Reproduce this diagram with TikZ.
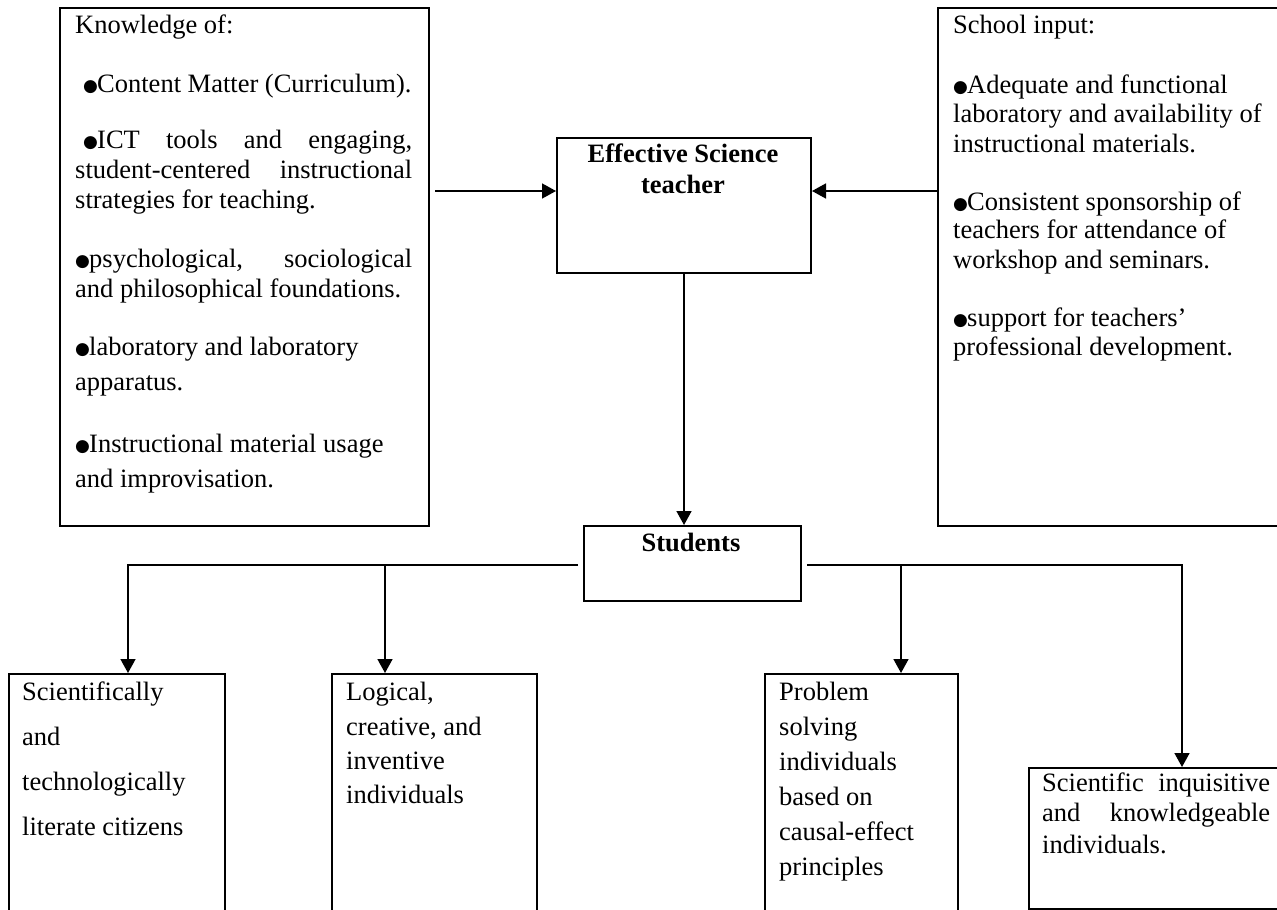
\documentclass[tikz,border=0pt]{standalone}
\usepackage{fontspec}
\setmainfont{Liberation Serif}
\newfontfamily\dejavu{DejaVu Sans}
\usetikzlibrary{arrows.meta}
\newcommand\bul{\makebox[14pt][l]{\dejavu\fontsize{17}{17}\selectfont\raisebox{0.5pt}{●}}}
\newcommand\fs{\fontsize{26.5}{30}\selectfont}
\begin{document}
\begin{tikzpicture}[x=1pt,y=-1pt,
  box/.style={draw, line width=2pt, inner sep=0pt, anchor=north west},
  arr/.style={line width=1.6pt, -{Triangle[length=14pt,width=15pt]}},
  ln/.style={anchor=base west, inner sep=0pt, font=\fs},
  lnc/.style={anchor=base, inner sep=0pt, font=\fs\bfseries}]
\useasboundingbox (0,0) rectangle (1277,910);
\clip (0,0) rectangle (1277,910);
% boxes
\node[box, minimum width=369pt, minimum height=518pt] (know) at (59,7) {};
\node[box, minimum width=400pt, minimum height=518pt] (sch) at (937,7) {};
\node[box, minimum width=254pt, minimum height=135pt] (eff) at (556,137) {};
\node[box, minimum width=217pt, minimum height=75pt] (stu) at (583,525) {};
\node[box, minimum width=216pt, minimum height=300pt] (b1) at (8,673) {};
\node[box, minimum width=205pt, minimum height=300pt] (b2) at (331,673) {};
\node[box, minimum width=193pt, minimum height=300pt] (b3) at (764,673) {};
\node[box, minimum width=306pt, minimum height=141pt] (b4) at (1028,767) {};
% left box text
\node[ln] (k1) at (75,33) {Knowledge of:};
\node[ln] (k2) at (83,92) {\bul Content Matter (Curriculum).};
\node[ln] (k3) at (83,148) {\makebox[329pt][s]{\bul ICT tools and engaging,}};
\node[ln] (k4) at (75,178) {\makebox[337pt][s]{student-centered instructional}};
\node[ln] (k5) at (75,208) {strategies for teaching.};
\node[ln] (k6) at (75,267) {\makebox[337pt][s]{\bul psychological, sociological}};
\node[ln] (k7) at (75,297) {and philosophical foundations.};
\node[ln] (k8) at (75,355) {\bul laboratory and laboratory};
\node[ln] (k9) at (75,390) {apparatus.};
\node[ln] (k10) at (75,452) {\bul Instructional material usage};
\node[ln] (k11) at (75,487) {and improvisation.};
% right box text
\node[ln] (s1) at (953,33) {School input:};
\node[ln] (s2) at (953,93) {\bul Adequate and functional};
\node[ln] (s3) at (953,122) {laboratory and availability of};
\node[ln] (s4) at (953,152) {instructional materials.};
\node[ln] (s5) at (953,210) {\bul Consistent sponsorship of};
\node[ln] (s6) at (953,238) {teachers for attendance of};
\node[ln] (s7) at (953,268) {workshop and seminars.};
\node[ln] (s8) at (953,326) {\bul support for teachers’};
\node[ln] (s9) at (953,355) {professional development.};
% centre texts
\node[lnc] (e1) at (683,162) {Effective Science};
\node[lnc] (e2) at (683,193) {teacher};
\node[lnc] (st) at (691,551) {Students};
% bottom texts
\node[ln] (a1) at (22,700) {Scientifically};
\node[ln] (a2) at (22,745) {and};
\node[ln] (a3) at (22,790) {technologically};
\node[ln] (a4) at (22,835) {literate citizens};
\node[ln] (c1) at (346,700) {Logical,};
\node[ln] (c2) at (346,735) {creative, and};
\node[ln] (c3) at (346,769) {inventive};
\node[ln] (c4) at (346,803) {individuals};
\node[ln] (p1) at (779,700) {Problem};
\node[ln] (p2) at (779,735) {solving};
\node[ln] (p3) at (779,770) {individuals};
\node[ln] (p4) at (779,805) {based on};
\node[ln] (p5) at (779,840) {causal-effect};
\node[ln] (p6) at (779,875) {principles};
\node[ln] (q1) at (1042,791) {\makebox[228pt][s]{Scientific inquisitive}};
\node[ln] (q2) at (1042,821) {\makebox[228pt][s]{and knowledgeable}};
\node[ln] (q3) at (1042,853) {individuals.};
% connectors
\coordinate (la) at (435,191);
\draw[arr] (la) -- (la -| eff.west);
\draw[arr] (la -| sch.west) -- (la -| eff.east);
\draw[arr] (eff.south) -- (eff.south |- stu.north);
\coordinate (hl) at (578,565);
\coordinate (hr) at (807,565);
\draw[arr] (hl) -| ([xshift=11pt]b1.north);
\draw[arr] ([xshift=-49.5pt]b2.north |- hl) -- ([xshift=-49.5pt]b2.north);
\draw[arr] (hr) -| (b4.north);
\draw[arr] ([xshift=39.5pt]b3.north |- hr) -- ([xshift=39.5pt]b3.north);
\end{tikzpicture}
\end{document}
